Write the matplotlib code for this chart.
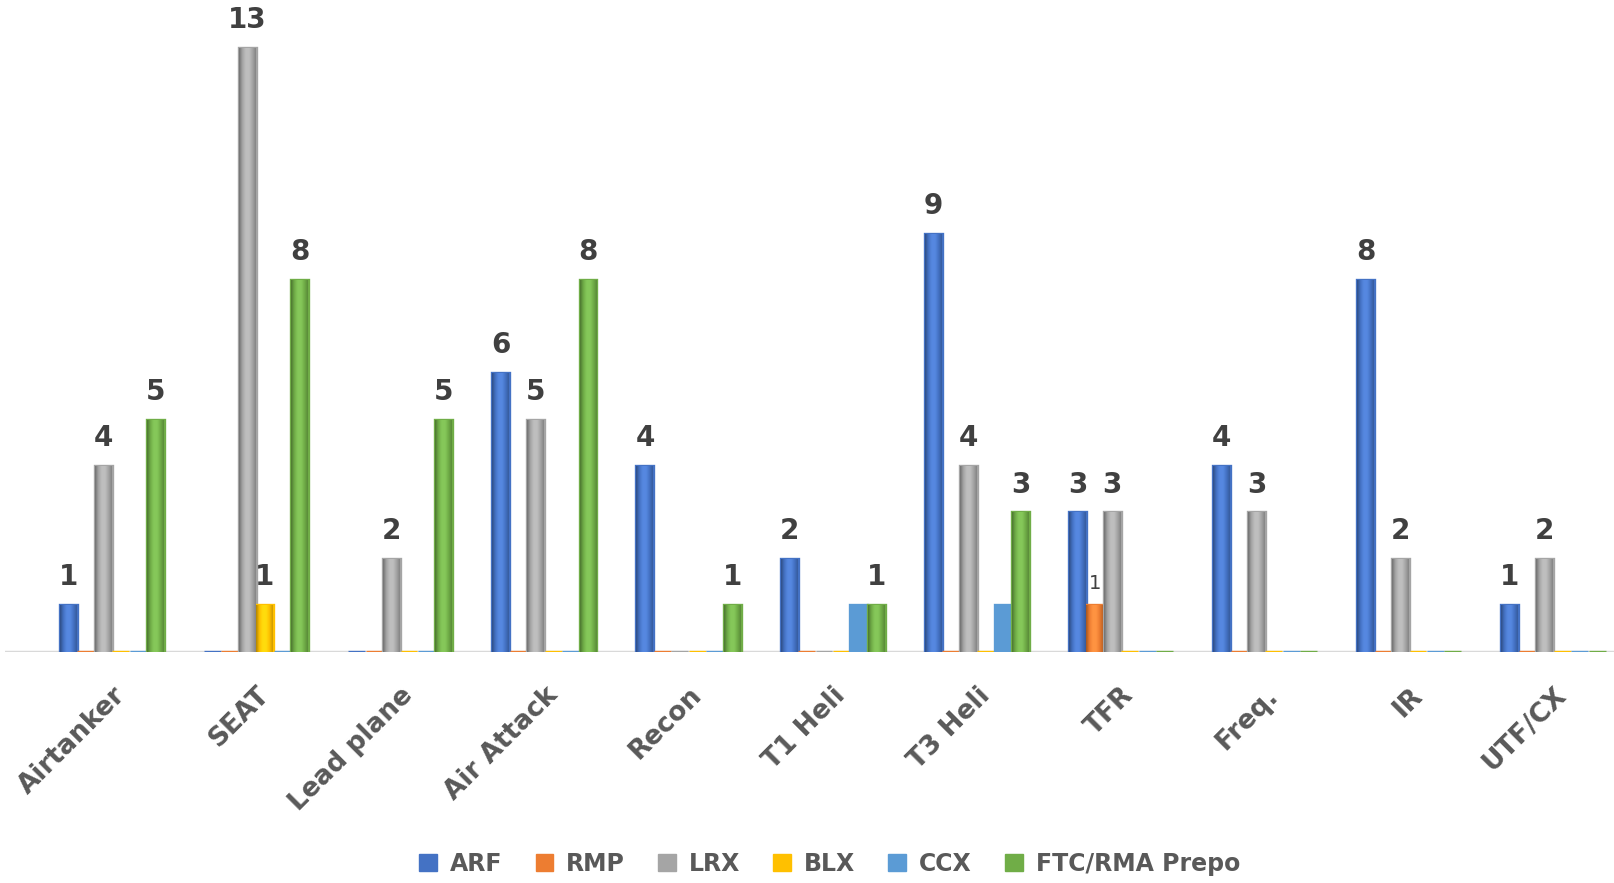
import matplotlib.pyplot as plt
import numpy as np
from matplotlib.colors import to_rgb, LinearSegmentedColormap
from matplotlib.patches import Patch

categories = ['Airtanker', 'SEAT', 'Lead plane', 'Air Attack', 'Recon', 'T1 Heli',
              'T3 Heli', 'TFR', 'Freq.', 'IR', 'UTF/CX']
series = ['ARF', 'RMP', 'LRX', 'BLX', 'CCX', 'FTC/RMA Prepo']
arf = [1, 0, 0, 6, 4, 2, 9, 3, 4, 8, 1]
rmp = [0, 0, 0, 0, 0, 0, 0, 1, 0, 0, 0]
lrx = [4, 13, 2, 5, 0, 0, 4, 3, 3, 2, 2]
blx = [0, 1, 0, 0, 0, 0, 0, 0, 0, 0, 0]
ccx = [0, 0, 0, 0, 0, 1, 1, 0, 0, 0, 0]
ftc = [5, 8, 5, 8, 1, 1, 3, 0, 0, 0, 0]
values = [arf, rmp, lrx, blx, ccx, ftc]
colors = ['#4472C4', '#ED7D31', '#A5A5A5', '#FFC000', '#5B9BD5', '#70AD47']

FONT = 'DejaVu Sans'
TXT = '#404040'


def shade_cmap(c):
    # darker edges, lighter middle: a rough cylinder look
    r = np.array(to_rgb(c))
    dark = r * 0.68
    light = np.clip(r * 1.08 + 0.05, 0, 1)
    return LinearSegmentedColormap.from_list('s', [dark, r, light, light, r, r * 0.8])


fig = plt.figure(figsize=(16.14, 8.83), dpi=100)
ax = fig.add_axes([0.003, 0.262, 0.997, 0.736])

x = np.arange(len(categories))
w = 0.121
grad = np.linspace(0, 1, 64).reshape(1, -1)

for k, (name, vals, col) in enumerate(zip(series, values, colors)):
    pos = x + (k - 2.5) * w
    bars = ax.bar(pos, vals, w * 0.97, color=col, edgecolor=col, linewidth=2.4,
                  label=name, zorder=3)
    if name != 'CCX':
        cm = shade_cmap(col)
        for b in bars:
            h = b.get_height()
            if h <= 0:
                continue
            im = ax.imshow(grad, extent=[b.get_x(), b.get_x() + b.get_width(), 0, h],
                           aspect='auto', cmap=cm, zorder=4, interpolation='bicubic')
            im.set_clip_path(b)
    for p, v in zip(pos, vals):
        if v <= 0 or name == 'CCX':
            continue
        if name == 'RMP':
            ax.annotate(str(v), (p, v), xytext=(0, 9), textcoords='offset points',
                        ha='center', va='bottom', fontsize=14, color=TXT, family=FONT)
        else:
            ax.annotate(str(v), (p, v), xytext=(0, 10), textcoords='offset points',
                        ha='center', va='bottom', fontsize=20, fontweight='bold',
                        color=TXT, family=FONT)

ax.set_ylim(0, 14)
ax.set_xlim(-0.743, 10.42)
ax.axhline(0, color='#D9D9D9', linewidth=2.5, zorder=2)
for s in ax.spines.values():
    s.set_visible(False)
ax.set_yticks([])
ax.set_xticks(x)
ax.set_xticklabels(categories, rotation=45, ha='right', rotation_mode='anchor',
                   fontsize=19, fontweight='bold', color='#595959', family=FONT)
ax.tick_params(axis='x', length=0, pad=22)

handles = [Patch(color=c) for c in colors]
leg = fig.legend(handles, series, loc='center', bbox_to_anchor=(0.514, 0.022), ncol=6,
                 frameon=False, handlelength=0.75, handleheight=0.75,
                 columnspacing=1.4, handletextpad=0.55,
                 prop={'family': FONT, 'size': 17, 'weight': 'bold'})
for t in leg.get_texts():
    t.set_color('#595959')

fig.savefig('out.png', dpi=100)
